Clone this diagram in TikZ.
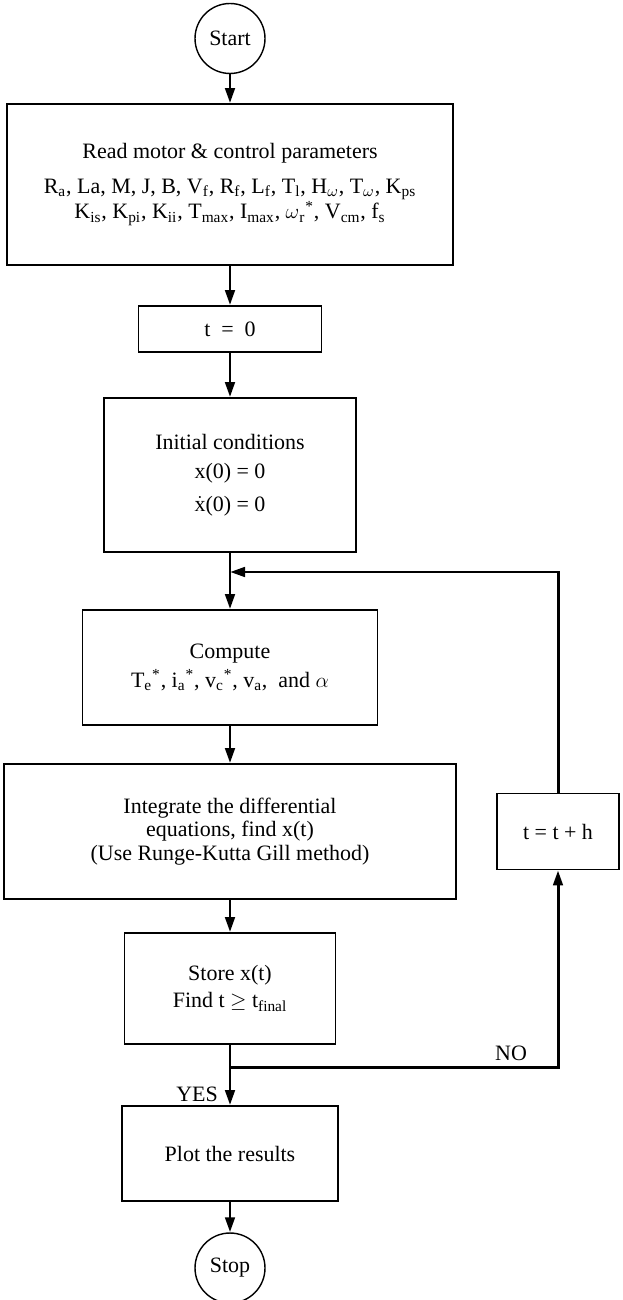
\documentclass[tikz,border=0pt]{standalone}
\usepackage{fontspec}
\setmainfont{Liberation Serif}
\usetikzlibrary{arrows.meta}

\begin{document}
\begin{tikzpicture}[x=0.02cm,y=-0.02cm,font=\fontsize{12.5pt}{13.5pt}\selectfont,
  box/.style={draw,line width=1pt,align=center,inner sep=2pt},
  term/.style={draw,circle,line width=0.8pt,minimum size=1.4cm,inner sep=0pt},
  flow/.style={line width=1.7pt,-{Triangle[length=0.3cm,width=0.19cm]}}]
\clip (0,0) rectangle (622,1300); %page is 622 by 1300 units, the Stop circle runs just past the bottom
\node[term] (start) at (230,38.5) {Start};
\node[box,minimum width=8.92cm,minimum height=3.22cm] (read) at (230,184.5) {Read motor \& control parameters\\[6pt]
  R\textsubscript{a}, La, M, J, B, V\textsubscript{f}, R\textsubscript{f}, L\textsubscript{f}, T\textsubscript{l}, H\textsubscript{$\omega$}, T\textsubscript{$\omega$}, K\textsubscript{ps}\\
  K\textsubscript{is}, K\textsubscript{pi}, K\textsubscript{ii}, T\textsubscript{max}, I\textsubscript{max}, $\omega$\textsubscript{r}\textsuperscript{*}, V\textsubscript{cm}, f\textsubscript{s}};
\node[box,minimum width=3.66cm,minimum height=0.92cm] (tzero) at (230,329) {t \ = \ 0};
\node[box,minimum width=5.04cm,minimum height=3.08cm] (init) at (230,475) {Initial conditions\\[3pt]
  x(0) = 0\\[5pt] $\dot{\mathrm{x}}$(0) = 0};
\coordinate (join) at (230,572); %feedback meets the main line here
\node[box,minimum width=5.9cm,minimum height=2.3cm] (compute) at (230,667.5) {Compute\\[3pt]
  T\textsubscript{e}\textsuperscript{*}, i\textsubscript{a}\textsuperscript{*}, v\textsubscript{c}\textsuperscript{*}, v\textsubscript{a}, \ and $\alpha$};
\node[box,minimum width=9.04cm,minimum height=2.7cm] (integ) at (230,831.5) {Integrate the differential\\
  equations, find x(t)\\ (Use Runge-Kutta Gill method)};
\node[box,minimum width=2.44cm,minimum height=1.52cm] (tstep) at (558,831.5) {t = t + h};
\node[box,minimum width=4.22cm,minimum height=2.22cm] (store) at (230,988.5) {Store x(t)\\[2pt]
  Find t $\geq$ t\textsubscript{final}};
\coordinate (fork) at (230,1067); %YES/NO split
\node[box,minimum width=4.32cm,minimum height=1.9cm] (plot) at (230,1153.5) {Plot the results};
\node[term] (stop) at (230,1268) {Stop};
\node (no) at (511,1053) {NO};
\node (yes) at (197,1094) {YES};
\draw[flow] (start) -- (read);
\draw[flow] (read) -- (tzero);
\draw[flow] (tzero) -- (init);
\draw[flow] (init) -- (compute);
\draw[flow] (compute) -- (integ);
\draw[flow] (integ) -- (store);
\draw[flow] (store) -- (plot);
\draw[flow] (plot) -- (stop);
\draw[flow] (fork) -| (tstep.south); %NO branch back up
\draw[flow] (tstep.north) |- (join); %loop into Compute
\end{tikzpicture}
\end{document}
